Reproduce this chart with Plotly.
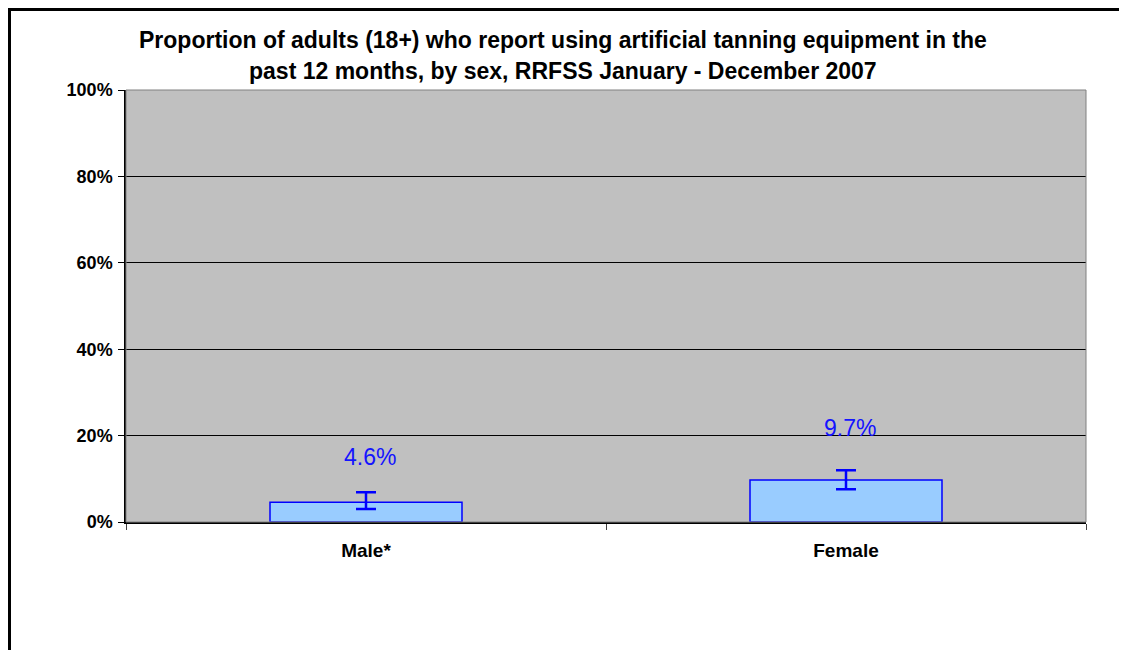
import plotly.graph_objects as go

categories = ["Male*", "Female"]
values = [4.6, 9.7]
err_plus = [2.3, 2.3]
err_minus = [1.6, 2.1]
labels = ["4.6%", "9.7%"]
label_shift = [45, 52]
y_ticks = [0, 20, 40, 60, 80, 100]
y_tick_labels = ["0%", "20%", "40%", "60%", "80%", "100%"]
title_lines = [
    "Proportion of adults (18+) who report using artificial tanning equipment in the",
    "past 12 months, by sex, RRFSS January - December 2007",
]

# page body has an 8px margin; compensate so the plot lands where the reference has it
OFF = 8
W, H = 1127 - OFF, 650 - OFF
L, T = 126 - OFF, 90 - OFF
R = W - (1086 - OFF)
B = H - (522 - OFF)
pw, ph = W - L - R, H - T - B

FONT = "Liberation Sans, Arial"

fig = go.Figure()
fig.add_trace(go.Bar(
    x=categories, y=values,
    marker=dict(color="#99CCFF", line=dict(color="#0000FF", width=1.5)),
    width=0.4,
    error_y=dict(type="data", symmetric=False, array=err_plus, arrayminus=err_minus,
                 color="#0000FF", thickness=2.5, width=10),
    hoverinfo="skip",
))

annotations = []
for c, v, t, s in zip(categories, values, labels, label_shift):
    annotations.append(dict(x=c, y=v, text=t, showarrow=False, yshift=s, xshift=4,
                            font=dict(family=FONT, size=23, color="#1414FF")))


def px2paper_x(px):
    return (px - OFF - L) / pw


def px2paper_y(py):
    return (H - B - (py - OFF)) / ph


for i, line in enumerate(title_lines):
    annotations.append(dict(xref="paper", yref="paper", x=px2paper_x(563), y=px2paper_y([40, 71][i]),
                            text="<b>" + line + "</b>", showarrow=False, xanchor="center", yanchor="middle",
                            font=dict(family=FONT, size=23, color="black")))

shapes = [
    dict(type="rect", xref="paper", yref="paper", x0=0, x1=1, y0=0, y1=1,
         line=dict(color="#808080", width=1), layer="above"),
    dict(type="rect", xref="paper", yref="paper",
         x0=(1.5 - L) / pw, x1=(W + 20 - L) / pw,
         y0=(H - B - (H + 20)) / ph, y1=(H - B - 1.5) / ph,
         line=dict(color="black", width=3), layer="above"),
]

fig.update_layout(
    width=W, height=H,
    margin=dict(l=L, r=R, t=T, b=B, pad=0),
    paper_bgcolor="white", plot_bgcolor="#C0C0C0",
    showlegend=False,
    bargap=0.6,
    font=dict(family=FONT, color="black"),
    annotations=annotations,
    shapes=shapes,
    xaxis=dict(showgrid=False, showline=True, linecolor="black", linewidth=1.5,
               ticks="outside", tickson="boundaries", ticklen=6, tickcolor="#404040",
               tickfont=dict(size=19, family=FONT, color="black"),
               tickprefix="<b>", ticksuffix="</b>", ticklabelstandoff=10),
    yaxis=dict(range=[0, 100], tickvals=y_ticks, ticktext=["<b>" + t + "</b>" for t in y_tick_labels],
               showgrid=True, gridcolor="black", gridwidth=1, zeroline=False,
               showline=True, linecolor="black", linewidth=1.5,
               ticks="outside", ticklen=6, tickcolor="black", ticklabelstandoff=2,
               tickfont=dict(size=18, family=FONT, color="black")),
)

fig.write_html("out.html")
